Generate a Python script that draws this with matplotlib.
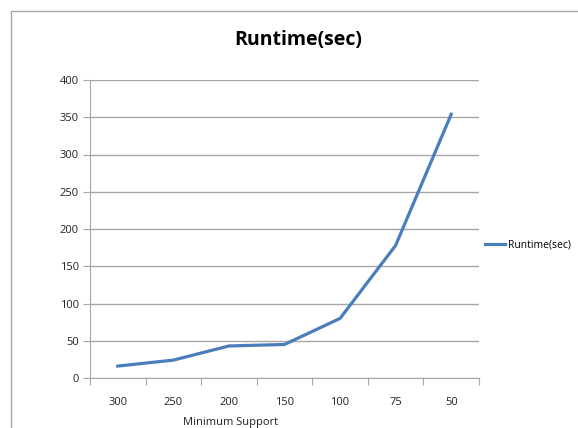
import matplotlib.pyplot as plt
from matplotlib.patches import Rectangle

support = ["300", "250", "200", "150", "100", "75", "50"]
runtime = [16, 24, 43, 45, 80, 178, 354]

plt.rcParams['font.family'] = ['Open Sans', 'DejaVu Sans']

fig = plt.figure(figsize=(5.78, 4.28), dpi=100)

# outer chart frame, running off the right and bottom edges
fig.patches.append(Rectangle((11 / 578, -0.1), 1.0, 1 - 11 / 428 + 0.1,
                             transform=fig.transFigure, fill=False,
                             edgecolor="#a6a6a6", linewidth=1.0))

ax = fig.add_axes([90 / 578, 50 / 428, 389 / 578, 298 / 428])
x = list(range(len(support)))
ax.plot(x, runtime, color="#4a7ebb", linewidth=2.3, label="Runtime(sec)")

ax.set_xlim(-0.5, len(support) - 0.5)
ax.set_ylim(0, 400)
ax.set_yticks(range(0, 401, 50))
ax.yaxis.grid(True, color="#a6a6a6", linewidth=1.0)
ax.set_axisbelow(True)

# category labels sit between the boundary tick marks
ax.set_xticks([i - 0.5 for i in range(len(support) + 1)])
ax.set_xticklabels([])
ax.set_xticks(x, minor=True)
ax.set_xticklabels(support, minor=True)
ax.tick_params(axis="x", which="major", length=5, color="#a6a6a6", direction="out")
ax.tick_params(axis="x", which="minor", length=0, pad=14, labelsize=8,
               labelcolor="#222222")
ax.tick_params(axis="y", length=5, color="#a6a6a6", labelsize=8, pad=3,
               labelcolor="#222222")

for side in ("top", "right"):
    ax.spines[side].set_visible(False)
for side in ("left", "bottom"):
    ax.spines[side].set_color("#a6a6a6")

fig.text(298 / 578, 1 - 40 / 428, "Runtime(sec)", ha="center", va="center",
         fontsize=14, fontweight="bold")
fig.text(231 / 578, 1 - 423 / 428, "Minimum Support", ha="center", va="center",
         fontsize=8, color="#222222")

ax.legend(loc="center left", bbox_to_anchor=((485 - 90) / 389, (378 - 245) / 298),
          frameon=False, fontsize=7.5, handlelength=1.9, handletextpad=0.3,
          borderaxespad=0, borderpad=0)

fig.savefig("out.png", dpi=100)
